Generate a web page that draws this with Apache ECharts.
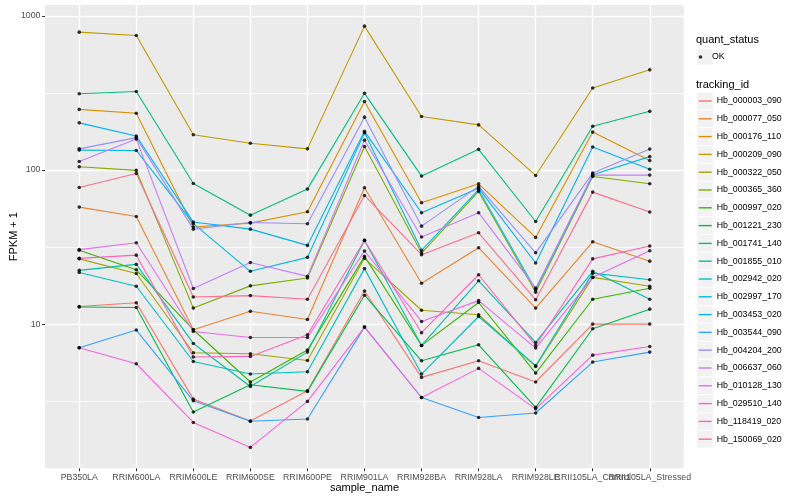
<!DOCTYPE html>
<html><head><meta charset="utf-8">
<script src="https://cdn.jsdelivr.net/npm/echarts@6/dist/echarts.min.js"></script>
<style>html,body{margin:0;padding:0;background:#fff}#c{width:800px;height:500px}</style>
</head><body><div id="c"></div><script>
const categories = ['PB350LA','RRIM600LA','RRIM600LE','RRIM600SE','RRIM600PE','RRIM901LA','RRIM928BA','RRIM928LA','RRIM928LE','RRII105LA_Control','RRII105LA_Stressed'];
const trackingIds = ['Hb_000003_090','Hb_000077_050','Hb_000176_110','Hb_000209_090','Hb_000322_050','Hb_000365_360','Hb_000997_020','Hb_001221_230','Hb_001741_140','Hb_001855_010','Hb_002942_020','Hb_002997_170','Hb_003453_020','Hb_003544_090','Hb_004204_200','Hb_006637_060','Hb_010128_130','Hb_029510_140','Hb_118419_020','Hb_150069_020'];
const Hb_000003_090 = [13.0, 13.75, 3.26, 2.35, 3.69, 16.4, 4.51, 5.78, 4.21, 10.0, 10.0];
const Hb_000077_050 = [57.4, 49.9, 9.19, 12.1, 10.7, 76.6, 18.4, 31.3, 12.7, 34.2, 25.6];
const Hb_000176_110 = [247, 233, 42.6, 45.2, 53.5, 278, 61.2, 81.3, 36.5, 176, 115];
const Hb_000209_090 = [783, 745, 169, 149, 137, 857, 222, 196, 92.1, 340, 446];
const Hb_000322_050 = [26.5, 21.3, 6.52, 6.42, 5.81, 26.7, 12.3, 11.5, 5.31, 20.1, 17.6];
const Hb_000365_360 = [104.8, 99.3, 12.7, 17.7, 19.9, 142, 28.9, 72.5, 16.1, 90.7, 81.3];
const Hb_000997_020 = [30.1, 22.5, 9.19, 4.21, 6.78, 27.5, 7.27, 13.8, 4.81, 14.5, 17.1];
const Hb_001221_230 = [12.9, 12.8, 2.69, 4.04, 3.66, 15.4, 5.78, 7.34, 2.88, 9.33, 12.5];
const Hb_001741_140 = [312, 323, 81.7, 50.9, 75.1, 314, 91.2, 136, 46.3, 192, 240];
const Hb_001855_010 = [22.3, 24.4, 7.49, 3.94, 6.58, 34.9, 7.27, 19.1, 7.60, 22.0, 14.5];
const Hb_002942_020 = [21.6, 17.6, 5.72, 4.74, 4.91, 22.9, 4.74, 11.2, 5.37, 21.4, 19.4];
const Hb_002997_170 = [134.5, 133.8, 44.8, 22.0, 27.1, 174, 30.1, 74.4, 16.7, 93.0, 122];
const Hb_003453_020 = [202, 166, 45.9, 41.3, 32.4, 178, 52.8, 76.2, 24.9, 141, 101];
const Hb_003544_090 = [7.02, 9.15, 3.18, 2.34, 2.42, 9.56, 3.34, 2.48, 2.65, 5.67, 6.58];
const Hb_004204_200 = [137, 162, 41.3, 45.6, 44.8, 220, 43.2, 78.2, 29.0, 95.4, 136.5];
const Hb_006637_060 = [113.5, 158.5, 17.0, 25.1, 20.4, 156, 36.7, 52.8, 17.1, 92.6, 92.6];
const Hb_010128_130 = [30.4, 33.7, 8.96, 8.19, 8.19, 29.8, 10.4, 14.2, 6.99, 20.1, 29.9];
const Hb_029510_140 = [7.02, 5.53, 2.30, 1.585, 3.15, 9.56, 3.34, 5.16, 2.82, 6.29, 7.16];
const Hb_118419_020 = [26.7, 28.0, 6.11, 6.17, 8.53, 34.9, 8.79, 20.9, 7.27, 26.5, 32.1];
const Hb_150069_020 = [77.0, 94.9, 15.0, 15.3, 14.5, 68.3, 28.2, 39.1, 14.4, 71.8, 53.3];
const seriesValues = [Hb_000003_090,Hb_000077_050,Hb_000176_110,Hb_000209_090,Hb_000322_050,Hb_000365_360,Hb_000997_020,Hb_001221_230,Hb_001741_140,Hb_001855_010,Hb_002942_020,Hb_002997_170,Hb_003453_020,Hb_003544_090,Hb_004204_200,Hb_006637_060,Hb_010128_130,Hb_029510_140,Hb_118419_020,Hb_150069_020];
const palette = ['#F8766D','#EA8331','#D89000','#C09B00','#A3A500','#7CAE00','#39B600','#00BB4E','#00BF7D','#00C1A3','#00BFC4','#00BAE0','#00B0F6','#35A2FF','#9590FF','#C77CFF','#E76BF3','#FA62DB','#FF62BC','#FF6C91'];
const yTicks = [10, 100, 1000];
const yMinorBreaks = [3.1623, 31.623, 316.23];
const xTicks = categories.map((c, i) => i);
const Y_MIN = 1.16, Y_MAX = 1175, X_MIN = -0.6, X_MAX = 10.6;
// label/tick slots: category positions plus a blank end slot so no real label gets dropped for overlapping
const xLabelSlots = xTicks.concat([X_MAX]);

const FONT = '"Liberation Sans", Arial, sans-serif';
const lineSeries = trackingIds.map((id, k) => ({
  type: 'line', name: id, z: 6, symbol: 'none', color: palette[k],
  lineStyle: {width: 1.1, color: palette[k]},
  data: seriesValues[k].map((v, i) => [i, v]),
  emphasis: {disabled: true}, silent: true
}));
// minor grid lines halfway between decades (drawn under the data lines)
lineSeries[0].markLine = {
  silent: true, symbol: ['none', 'none'], label: {show: false},
  lineStyle: {color: '#FFFFFF', width: 0.8, type: 'solid'},
  data: yMinorBreaks.map(v => ({yAxis: v}))
};
const points = [];
seriesValues.forEach(vals => vals.forEach((v, i) => points.push([i, v])));

const legTop = 92.1, legStep = 17.8;
const boxes = trackingIds.map((id, k) => ({
  type: 'rect', z: 0,
  shape: {x: 697.2, y: legTop + k * legStep + 0.5, width: 15.5, height: legStep - 1},
  style: {fill: '#F2F2F2'}
}));
boxes.push({type: 'rect', z: 0, shape: {x: 697.2, y: 49.3, width: 15.5, height: 15.3}, style: {fill: '#F2F2F2'}});

const chart = echarts.init(document.getElementById('c'));
chart.setOption({
  animation: false,
  textStyle: {fontFamily: FONT},
  title: [
    {text: 'quant_status', left: 696, top: 34.5, padding: 0, textStyle: {fontSize: 11, fontWeight: 'normal', color: '#000', fontFamily: FONT}},
    {text: 'tracking_id', left: 696, top: 79, padding: 0, textStyle: {fontSize: 11, fontWeight: 'normal', color: '#000', fontFamily: FONT}}
  ],
  grid: {left: 45, top: 5, right: 116, bottom: 31.7, show: true, backgroundColor: '#EBEBEB', borderWidth: 0,
    containLabel: false, outerBoundsMode: 'none'},
  xAxis: {
    type: 'value', min: X_MIN, max: X_MAX, splitNumber: 11, minInterval: 1, maxInterval: 1,
    axisLine: {show: false, onZero: false},
    axisTick: {show: true, length: 3, lineStyle: {color: '#333', width: 1}, customValues: xLabelSlots},
    axisLabel: {customValues: xLabelSlots, formatter: v => (categories[v] !== undefined ? categories[v] : ''),
      color: '#4D4D4D', fontSize: 8.8, margin: 4.5, fontFamily: FONT,
      hideOverlap: false, showMinLabel: true, showMaxLabel: false},
    splitLine: {show: true, lineStyle: {color: '#fff', width: 1.42}},
    name: 'sample_name', nameLocation: 'middle', nameGap: 14, nameMoveOverlap: false,
    nameTextStyle: {fontSize: 11, color: '#000', fontFamily: FONT}
  },
  yAxis: {
    type: 'log', logBase: 10, min: Y_MIN, max: Y_MAX,
    axisLine: {show: false, onZero: false},
    axisTick: {show: true, length: 3, lineStyle: {color: '#333', width: 1}, customValues: yTicks},
    axisLabel: {customValues: yTicks, formatter: v => String(v), color: '#4D4D4D', fontSize: 8.8, margin: 4.5, fontFamily: FONT,
      showMinLabel: true, showMaxLabel: true},
    splitLine: {show: true, lineStyle: {color: '#fff', width: 1.42}},
    name: 'FPKM + 1', nameLocation: 'middle', nameGap: 26, nameMoveOverlap: false,
    nameTextStyle: {fontSize: 11, color: '#000', fontFamily: FONT}
  },
  legend: [
    {data: ['OK'], orient: 'vertical', left: 698.7, top: 49, padding: 0, icon: 'circle', itemWidth: 13, itemHeight: 3.6, selectedMode: false,
     textStyle: {fontSize: 8.8, color: '#000', lineHeight: 16, fontFamily: FONT}},
    {data: trackingIds, orient: 'vertical', left: 698.7, top: legTop, padding: 0, icon: 'rect', itemWidth: 13, itemHeight: 1.4, itemGap: 0, selectedMode: false,
     textStyle: {fontSize: 8.8, color: '#000', lineHeight: legStep, fontFamily: FONT}}
  ],
  graphic: {elements: boxes},
  series: [
    ...lineSeries,
    {type: 'scatter', name: 'OK', z: 7, symbol: 'circle', symbolSize: 3.6, itemStyle: {color: '#000'}, data: points, silent: true}
  ]
});
</script></body></html>
